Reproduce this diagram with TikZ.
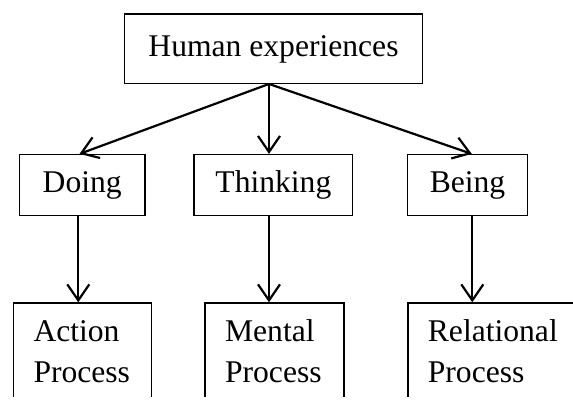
\documentclass[tikz,border=0pt]{standalone}
\usepackage{fontspec}
\setmainfont{Liberation Serif}
\usetikzlibrary{arrows.meta}
\begin{document}
\begin{tikzpicture}[x=1pt,y=-1pt,
  txt/.style={font=\fontsize{31.6}{41}\selectfont},
  box/.style={draw, line width=1.2pt, rectangle, inner sep=0pt, txt,
    text height=22pt, text depth=7pt},
  procbox/.style={draw, line width=1.2pt, rectangle, inner sep=0pt,
    anchor=north west, minimum height=130pt},
  proctext/.style={txt, inner sep=0pt, anchor=base west},
  link/.style={line width=2.2pt,
    -{Straight Barb[length=16pt,width=22pt,line width=2.2pt]}},
]
\useasboundingbox (0,0) rectangle (573,405);

% top level
\node[box, minimum width=298.4pt, minimum height=69.3pt] (top) at (273.5,48.7) {Human experiences};

% middle row
\node[box, minimum width=125.7pt, minimum height=61pt] (doing) at (82.2,185) {Doing};
\node[box, minimum width=158.7pt, minimum height=61pt] (thinking) at (273.4,185) {Thinking};
\node[box, minimum width=120.4pt, minimum height=61pt] (being) at (467.5,185) {Being};

% bottom row, open at the lower edge
\begin{scope}
  \clip (0,0) rectangle (573,396);
  \node[procbox, minimum width=138pt] (action) at (12.7,302.3) {};
  \node[procbox, minimum width=139pt] (mental) at (204.3,302.3) {};
  \node[procbox, minimum width=190pt] (relational) at (407.3,302.3) {};
\end{scope}
\node[proctext] (actiontext) at ([xshift=20.6pt,yshift=-39.4pt]action.north west)
  {\begin{tabular}[t]{@{}l@{}}Action\\Process\end{tabular}};
\node[proctext] (mentaltext) at ([xshift=20.6pt,yshift=-39.4pt]mental.north west)
  {\begin{tabular}[t]{@{}l@{}}Mental\\Process\end{tabular}};
\node[proctext] (relationaltext) at ([xshift=20.4pt,yshift=-39.4pt]relational.north west)
  {\begin{tabular}[t]{@{}l@{}}Relational\\Process\end{tabular}};

% connectors
\coordinate (fork) at ([xshift=-4.5pt]top.south);
\draw[link] (fork) -- ([xshift=-2.7pt]doing.north);
\draw[link] (fork) -- ([xshift=-4.4pt]thinking.north);
\draw[link] (fork) -- ([xshift=4.3pt]being.north);

\draw[link] ([xshift=-3.9pt]doing.south) -- ([xshift=-3.9pt]doing.south |- action.north);
\draw[link] ([xshift=-4.4pt]thinking.south) -- ([xshift=-4.4pt]thinking.south |- mental.north);
\draw[link] ([xshift=4.8pt]being.south) -- ([xshift=4.8pt]being.south |- relational.north);
\end{tikzpicture}
\end{document}
